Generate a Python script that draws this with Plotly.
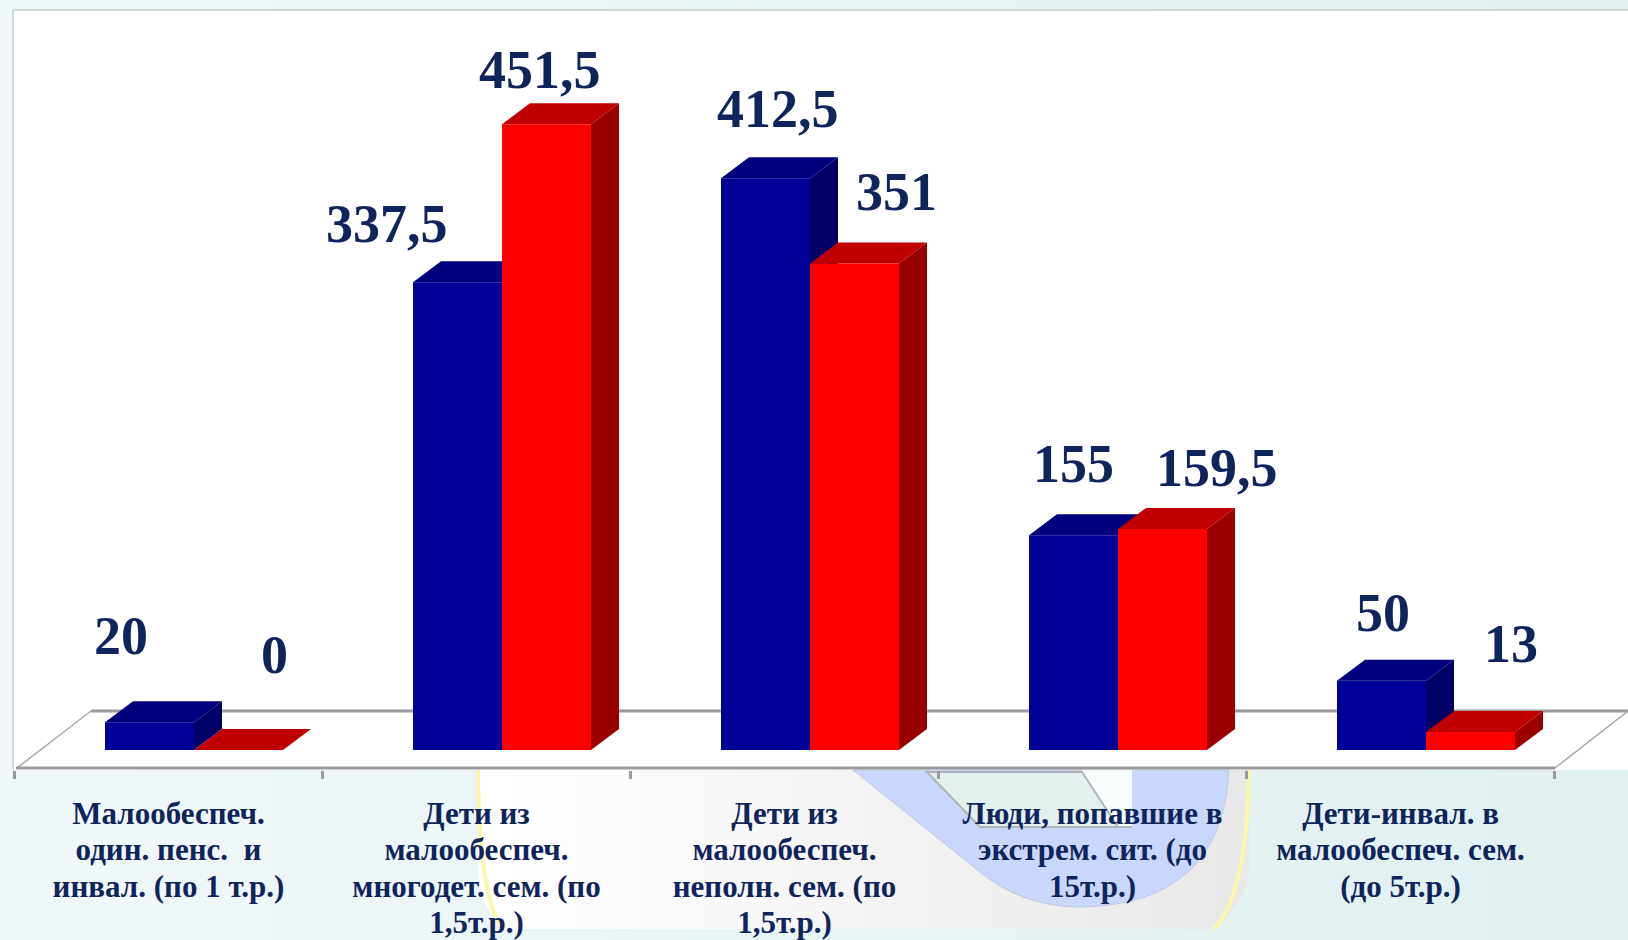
import plotly.graph_objects as go

categories = [
    "Малообеспеч.<br>один. пенс.  и<br>инвал. (по 1 т.р.)",
    "Дети из<br>малообеспеч.<br>многодет. сем. (по<br>1,5т.р.)",
    "Дети из<br>малообеспеч.<br>неполн. сем. (по<br>1,5т.р.)",
    "Люди, попавшие в<br>экстрем. сит. (до<br>15т.р.)",
    "Дети-инвал. в<br>малообеспеч. сем.<br>(до 5т.р.)",
]
blue_values = [20, 337.5, 412.5, 155, 50]
red_values = [0, 451.5, 351, 159.5, 13]
# label placement offsets in pixels, relative to the front-top centre of each bar
blue_label_dx = [-29, -71, 12, 0, 1]
blue_label_dy = [86, 58, 69, 71, 68]
red_label_dx = [36, -7, 42, 54, 40]
red_label_dy = [95, 54, 72, 61, 88]

W, H = 1628, 940
PX_X, PX_Y = 308.0, 1.386
X0_PX, Y0_PX = 14.5, 750
L, R, T, B = 13, 1628, 10, 770
BAR_W = 89 / PX_X
BLUE_LEFT = 90.5 / PX_X
DX, DY = 28 / PX_X, 21 / PX_Y
TEXT = "#10245c"
FONT = "Liberation Serif"


def px(x):
    return (x - L) / (R - L)


def py(y):
    return (B - y) / (B - T)


def lerp(a, b, t):
    return "#%02x%02x%02x" % tuple(round(a[k] + (b[k] - a[k]) * t) for k in range(3))


shapes = []
# page background gradient
for k in range(24):
    x_a, x_b = W * k / 24, W * (k + 1) / 24 + 1
    shapes.append(dict(type="rect", xref="paper", yref="paper", layer="below", line_width=0,
                       x0=px(x_a), x1=px(x_b), y0=py(H), y1=py(0),
                       fillcolor=lerp((240, 247, 249), (225, 240, 240), k / 23)))
# white chart panel
shapes.append(dict(type="rect", xref="paper", yref="paper", layer="below", line_width=0,
                   x0=px(L), x1=px(R), y0=py(B), y1=py(T), fillcolor="white"))
# decorative panel below the axis
PANEL_L, PANEL_R = 478, 1249
PANEL_B = 929
for k in range(1, 23):
    x_a = PANEL_L + (PANEL_R - PANEL_L) * k / 24
    x_b = PANEL_L + (PANEL_R - PANEL_L) * (k + 1) / 24 + 1
    shapes.append(dict(type="rect", xref="paper", yref="paper", layer="below", line_width=0,
                       x0=px(x_a), x1=px(x_b), y0=py(PANEL_B), y1=py(B),
                       fillcolor=lerp((255, 255, 255), (232, 232, 232), k / 23)))
step = (PANEL_R - PANEL_L) / 24
shapes.append(dict(type="path", xref="paper", yref="paper", layer="below", line_width=0,
                   path=(f"M {px(PANEL_L)} {py(B)} L {px(PANEL_L)} {py(875)} "
                         f"Q {px(PANEL_L + 3)} {py(905)} {px(503)} {py(PANEL_B)} "
                         f"L {px(PANEL_L + step + 1)} {py(PANEL_B)} L {px(PANEL_L + step + 1)} {py(B)} Z"),
                   fillcolor="#ffffff"))
shapes.append(dict(type="path", xref="paper", yref="paper", layer="below", line_width=0,
                   path=(f"M {px(PANEL_R)} {py(B)} L {px(PANEL_R)} {py(870)} "
                         f"Q {px(PANEL_R - 4)} {py(905)} {px(1214)} {py(PANEL_B)} "
                         f"L {px(PANEL_R - step)} {py(PANEL_B)} L {px(PANEL_R - step)} {py(B)} Z"),
                   fillcolor="#e8e8e8"))
for (a, b, c, d, e, f) in ((PANEL_L, B, PANEL_L + 1, 900, 503, PANEL_B),
                           (PANEL_R, B, PANEL_R - 2, 895, 1214, PANEL_B)):
    shapes.append(dict(type="path", xref="paper", yref="paper", layer="below",
                       path=f"M {px(a)} {py(b)} Q {px(c)} {py(d)} {px(e)} {py(f)}",
                       line=dict(color="#fbf6a8", width=4)))
# pale blue sweep
shapes.append(dict(type="path", xref="paper", yref="paper", layer="below",
                   path=(f"M {px(853)} {py(B)} L {px(975)} {py(868)} "
                         f"Q {px(1020)} {py(907)} {px(1080)} {py(907)} "
                         f"Q {px(1222)} {py(905)} {px(1229)} {py(B)} Z"),
                   fillcolor="#c8d7fb", line=dict(color="#c0c8e0", width=1)))
shapes.append(dict(type="rect", xref="paper", yref="paper", layer="below",
                   x0=px(1082), x1=px(1132), y0=py(827), y1=py(B),
                   fillcolor="#f7fcfd", line_width=0))
shapes.append(dict(type="path", xref="paper", yref="paper", layer="below",
                   path=(f"M {px(927)} {py(772)} L {px(980)} {py(827)} L {px(1132)} {py(827)} "
                         f"L {px(1118)} {py(827)} L {px(1082)} {py(772)} Z"),
                   fillcolor="#e3f0ee", line=dict(color="#b0b4b8", width=2)))
# frame and floor
grey = "#9a9a9a"
for (a, b, c, d, col, wd) in [
    (13, 770, 13, 10, "#c4cccc", 1.5),
    (13, 10, 1628, 10, "#c4cccc", 1.5),
    (91, 711, 1628, 711, grey, 3),
    (17, 768, 91, 711, "#a8a8a8", 1.5),
    (1555, 768, 1628, 711, "#a8a8a8", 1.5),
    (16, 768, 1555, 768, grey, 3),
]:
    shapes.append(dict(type="line", xref="paper", yref="paper", layer="between",
                       x0=px(a), y0=py(b), x1=px(c), y1=py(d), line=dict(color=col, width=wd)))

positions = list(range(len(categories)))
blue_left = [i + BLUE_LEFT for i in positions]
red_left = [i + BLUE_LEFT + BAR_W for i in positions]


def faces(lefts, values, top_col, side_col, z):
    out = []
    for x0, v in zip(lefts, values):
        x1 = x0 + BAR_W
        out.append(go.Scatter(x=[x1, x1 + DX, x1 + DX, x1, x1], y=[v, v + DY, DY, 0, v], mode="lines",
                              fill="toself", fillcolor=side_col, line=dict(width=0),
                              hoverinfo="skip", showlegend=False, zorder=z))
        out.append(go.Scatter(x=[x0, x0 + DX, x1 + DX, x1, x0], y=[v, v + DY, v + DY, v, v], mode="lines",
                              fill="toself", fillcolor=top_col, line=dict(width=0),
                              hoverinfo="skip", showlegend=False, zorder=z))
    return out


fig = go.Figure()
for tr in faces(blue_left, blue_values, "#00007f", "#000068", 1):
    fig.add_trace(tr)
fig.add_trace(go.Bar(x=[v + BAR_W / 2 for v in blue_left], y=blue_values, width=BAR_W,
                     marker=dict(color="#000099", line_width=0), showlegend=False, zorder=2))
for tr in faces(red_left, red_values, "#c00000", "#9a0000", 3):
    fig.add_trace(tr)
fig.add_trace(go.Bar(x=[v + BAR_W / 2 for v in red_left], y=red_values, width=BAR_W,
                     marker=dict(color="#ff0000", line_width=0), showlegend=False, zorder=4))

annotations = []
for lefts, values, dxs, dys in ((blue_left, blue_values, blue_label_dx, blue_label_dy),
                                (red_left, red_values, red_label_dx, red_label_dy)):
    for x0, v, ddx, ddy in zip(lefts, values, dxs, dys):
        annotations.append(dict(x=x0 + BAR_W / 2, y=v, xref="x", yref="y",
                                text=f"<b>{str(v).replace('.', ',')}</b>", showarrow=False,
                                xshift=ddx, yshift=ddy, xanchor="center", yanchor="middle",
                                font=dict(family=FONT, size=54, color=TEXT)))

fig.update_layout(
    width=W, height=H, autosize=False, barmode="overlay",
    margin=dict(l=L, r=W - R, t=T, b=H - B, pad=0, autoexpand=False),
    paper_bgcolor="#e6f2f2", plot_bgcolor="white",
    shapes=shapes, annotations=annotations, showlegend=False,
    xaxis=dict(range=[(L - X0_PX) / PX_X, (R - X0_PX) / PX_X], showgrid=False, zeroline=False,
               showline=False, tickmode="array", automargin=False,
               tickvals=[i + 0.5 for i in positions],
               ticktext=[f"<b>{c}</b>" for c in categories], ticks="",
               ticklabelstandoff=22,
               tickfont=dict(family=FONT, size=31, color=TEXT),
               minor=dict(tickmode="array", tickvals=list(range(len(categories) + 1)),
                          ticks="outside", ticklen=8, tickwidth=3, tickcolor=grey, showgrid=False)),
    yaxis=dict(range=[(Y0_PX - B) / PX_Y, (Y0_PX - T) / PX_Y], visible=False, fixedrange=True,
               automargin=False),
)
POST = """
document.body.style.margin = '0';
document.body.style.overflow = 'hidden';
document.querySelectorAll('.xtick tspan.line').forEach(function (t) {
  var d = parseFloat(t.getAttribute('dy') || '0');
  if (d) { t.setAttribute('dy', (d * 0.905) + 'em'); }
});
"""
fig.write_html("out.html", config={"displayModeBar": False}, post_script=POST)
